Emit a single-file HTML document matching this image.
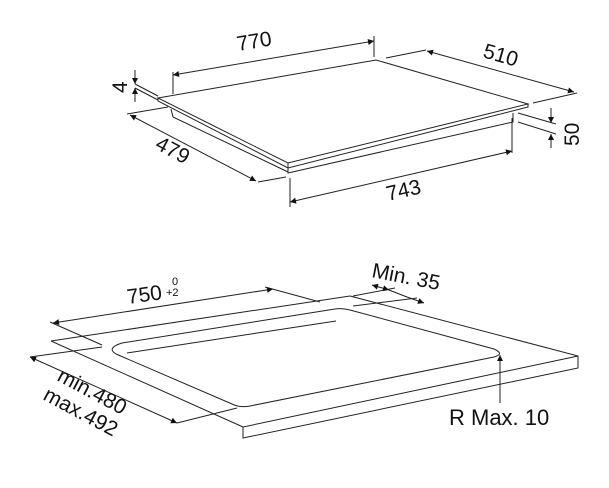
<!DOCTYPE html>
<html><head><meta charset="utf-8"><style>
html,body{margin:0;padding:0;background:#fff;}
svg{display:block;}
text{font-family:"Liberation Sans",sans-serif;fill:#111;}
</style></head><body>
<svg width="609" height="488" viewBox="0 0 609 488" xmlns="http://www.w3.org/2000/svg">
<defs>
<marker id="a" viewBox="0 0 10 10" refX="10" refY="5" markerWidth="11" markerHeight="6" orient="auto-start-reverse" markerUnits="userSpaceOnUse"><path d="M0,0 L10,5 L0,10 z" fill="#111"/></marker>
</defs>
<g stroke="#222" stroke-width="1" fill="none">
<!-- Top hob -->
<polygon points="158,98 376,60 528,104 288,163" fill="#fff"/>
<polyline points="158,98 158,101 288,168 528,107 528,104"/>
<line x1="288" y1="163" x2="288" y2="168"/>
<polyline points="171,109 173,117 288,172"/>
<polyline points="288,168 288,173 513,122 513,113"/>
<!-- 770 -->
<line x1="173" y1="72" x2="173" y2="94"/>
<line x1="374" y1="36" x2="374" y2="57"/>
<line x1="173" y1="75" x2="374" y2="41" marker-start="url(#a)" marker-end="url(#a)"/>
<!-- 510 -->
<line x1="386" y1="58" x2="426" y2="50"/>
<line x1="533" y1="103" x2="577" y2="93"/>
<line x1="427" y1="51" x2="574" y2="92" marker-start="url(#a)" marker-end="url(#a)"/>
<!-- 4 -->
<line x1="135" y1="84" x2="158" y2="96"/>
<line x1="135" y1="88" x2="158" y2="100"/>
<line x1="135" y1="70" x2="135" y2="84" marker-end="url(#a)"/>
<line x1="135" y1="102" x2="135" y2="88" marker-end="url(#a)"/>
<!-- 479 -->
<line x1="127" y1="114" x2="168" y2="107"/>
<line x1="258" y1="182" x2="286" y2="177"/>
<line x1="130" y1="115" x2="256" y2="181" marker-start="url(#a)" marker-end="url(#a)"/>
<!-- 743 -->
<line x1="290" y1="178" x2="290" y2="207"/>
<line x1="512" y1="118" x2="512" y2="153"/>
<line x1="290" y1="202" x2="512" y2="151" marker-start="url(#a)" marker-end="url(#a)"/>
<!-- 50 -->
<line x1="518" y1="113" x2="556" y2="124"/>
<line x1="518" y1="122" x2="556" y2="134"/>
<line x1="551" y1="108" x2="551" y2="123" marker-end="url(#a)"/>
<line x1="551" y1="148" x2="551" y2="134" marker-end="url(#a)"/>

<!-- Bottom counter -->
<line x1="51" y1="341" x2="350" y2="296"/>
<polyline points="350,296 578,356 578,368 243,438 243,427 578,356"/>
<line x1="51" y1="341" x2="243" y2="427"/>
<path d="M122,343 L335,309 Q342,308 350,310 L494,349 Q505,354 494,357 L250,406 Q240,408 232,404 L116,354 Q106,348 122,343 Z"/>
<polyline points="127,353 336,321 Q342,320 348,322 L485,357"/>
<!-- 750 -->
<line x1="50" y1="322" x2="102" y2="345"/>
<line x1="265" y1="287" x2="320" y2="302"/>
<line x1="53" y1="323" x2="273" y2="289" marker-start="url(#a)" marker-end="url(#a)"/>
<!-- Min 35 -->
<line x1="353" y1="296" x2="395" y2="288"/>
<line x1="353" y1="306" x2="417" y2="298"/>
<line x1="372" y1="285" x2="389" y2="290" marker-end="url(#a)" marker-start="url(#a)"/>
<line x1="389" y1="290" x2="407" y2="297"/>
<line x1="407" y1="297" x2="424" y2="303" marker-end="url(#a)"/>
<!-- R max -->
<line x1="500" y1="403" x2="500" y2="355" marker-end="url(#a)"/>
<!-- min480 -->
<line x1="30" y1="357" x2="102" y2="347"/>
<line x1="177" y1="423" x2="237" y2="408"/>
<line x1="30" y1="357" x2="177" y2="423" marker-start="url(#a)" marker-end="url(#a)"/>
</g>
<g font-size="21">
<text transform="translate(238,51) rotate(-9.5)">770</text>
<text transform="translate(482,57) rotate(16)">510</text>
<text transform="translate(127,93) rotate(-90)">4</text>
<text transform="translate(154,148) rotate(28)">479</text>
<text transform="translate(388,201) rotate(-13)">743</text>
<text transform="translate(579,146) rotate(-90)">50</text>
<text font-size="21" transform="translate(128,304) rotate(-8)">750</text>
<text font-size="11" x="172" y="285">0</text>
<text font-size="11" x="166" y="296">+2</text>
<text font-size="21" transform="translate(371,277) rotate(11)">Min. 35</text>
<text font-size="22" x="449" y="425">R Max. 10</text>
<text font-size="21" transform="translate(56,380) rotate(28)">min.480</text>
<text font-size="21" transform="translate(42,399) rotate(28)">max.492</text>
</g>
</svg>
</body></html>
